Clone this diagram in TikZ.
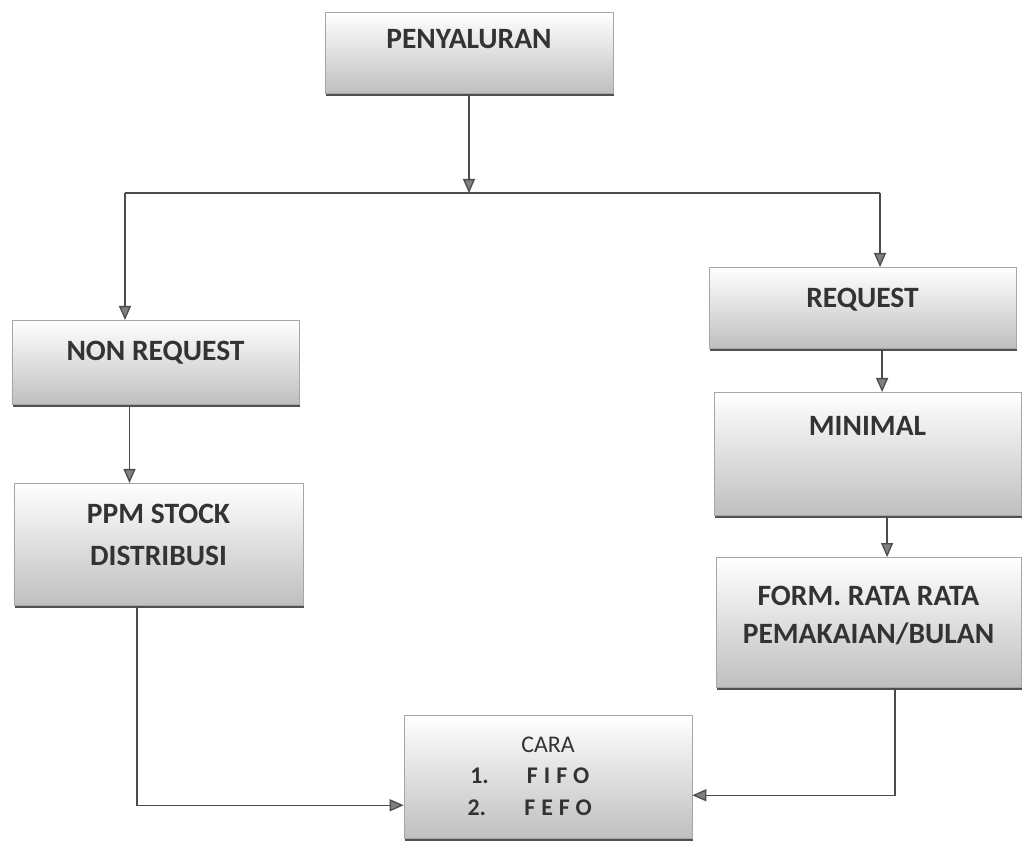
\documentclass[tikz,border=0pt]{standalone}
\usepackage{fontspec}
\setmainfont{Carlito}
\newfontfamily\spacedfont[LetterSpace=25]{Carlito}
\usetikzlibrary{arrows.meta,shadows}

\begin{document}
\begin{tikzpicture}[
  box/.style={draw=gray!70, line width=0.5pt, top color=white, bottom color=black!25,
    drop shadow={shadow xshift=0.6pt, shadow yshift=-2pt, fill=black!80, opacity=0.85},
    inner sep=0pt, anchor=north, align=center, text=black!80,
    font=\fontsize{21}{29}\selectfont\bfseries},
  link/.style={draw=black!70, line width=0.9pt},
  arr/.style={link, -{Triangle[length=3.5mm,width=3mm,fill=gray]}}
]
\useasboundingbox (0,0) rectangle (25.6,-21.025);

\node[box, minimum width=7.2cm, text height=0.9cm, text depth=1.125cm] (peny) at (11.725,-0.3) {PENYALURAN};

\node[box, minimum width=7.175cm, text height=1.0cm, text depth=1.1cm] (nonreq) at (3.8875,-8.0) {NON REQUEST};
\node[box, minimum width=7.225cm, text height=2.05cm, text depth=1.0cm] (ppm) at (3.9625,-12.075) {PPM STOCK\\[1pt]DISTRIBUSI};

\node[box, minimum width=7.675cm, text height=1.0cm, text depth=1.025cm] (req) at (21.5625,-6.675) {REQUEST};
\node[box, minimum width=7.675cm, text height=1.075cm, text depth=2.0cm] (minimal) at (21.6875,-9.8) {MINIMAL};
\node[box, minimum width=7.625cm, text height=2.15cm, text depth=1.1cm] (form) at (21.7125,-13.925) {FORM. RATA RATA\\[-2pt]PEMAKAIAN/BULAN};

\node[box, minimum width=7.2cm, text height=2.5cm, text depth=0.575cm,
  font=\fontsize{17}{22.5}\selectfont] (cara) at (13.7,-17.875)
  {CARA\\\textbf{1.}\hspace{1.6em}{\spacedfont\bfseries FIFO}\kern 26pt\\\textbf{2.}\hspace{1.6em}{\spacedfont\bfseries FEFO}\kern 26pt};

\coordinate (jl) at (3.125,-4.825);
\coordinate (jr) at (22.0,-4.825);
\draw[arr] (peny.south) -- (peny.south |- jr);
\draw[link] (jl) -- (jr);
\draw[arr] (jl) -- (jl |- nonreq.north);
\draw[arr] (jr) -- (jr |- req.north);

\coordinate (a1) at ([xshift=-0.65cm]nonreq.south);
\draw[arr] (a1) -- (a1 |- ppm.north);
\coordinate (a2) at ([xshift=0.49cm]req.south);
\draw[arr] (a2) -- (a2 |- minimal.north);
\coordinate (a3) at ([xshift=0.49cm]minimal.south);
\draw[arr] (a3) -- (a3 |- form.north);

\coordinate (b1) at ([xshift=-0.54cm]ppm.south);
\draw[arr] (b1) |- ([yshift=-0.71cm]cara.west);
\coordinate (b2) at ([xshift=0.66cm]form.south);
\draw[arr] (b2) |- ([yshift=-0.46cm]cara.east);
\end{tikzpicture}
\end{document}
